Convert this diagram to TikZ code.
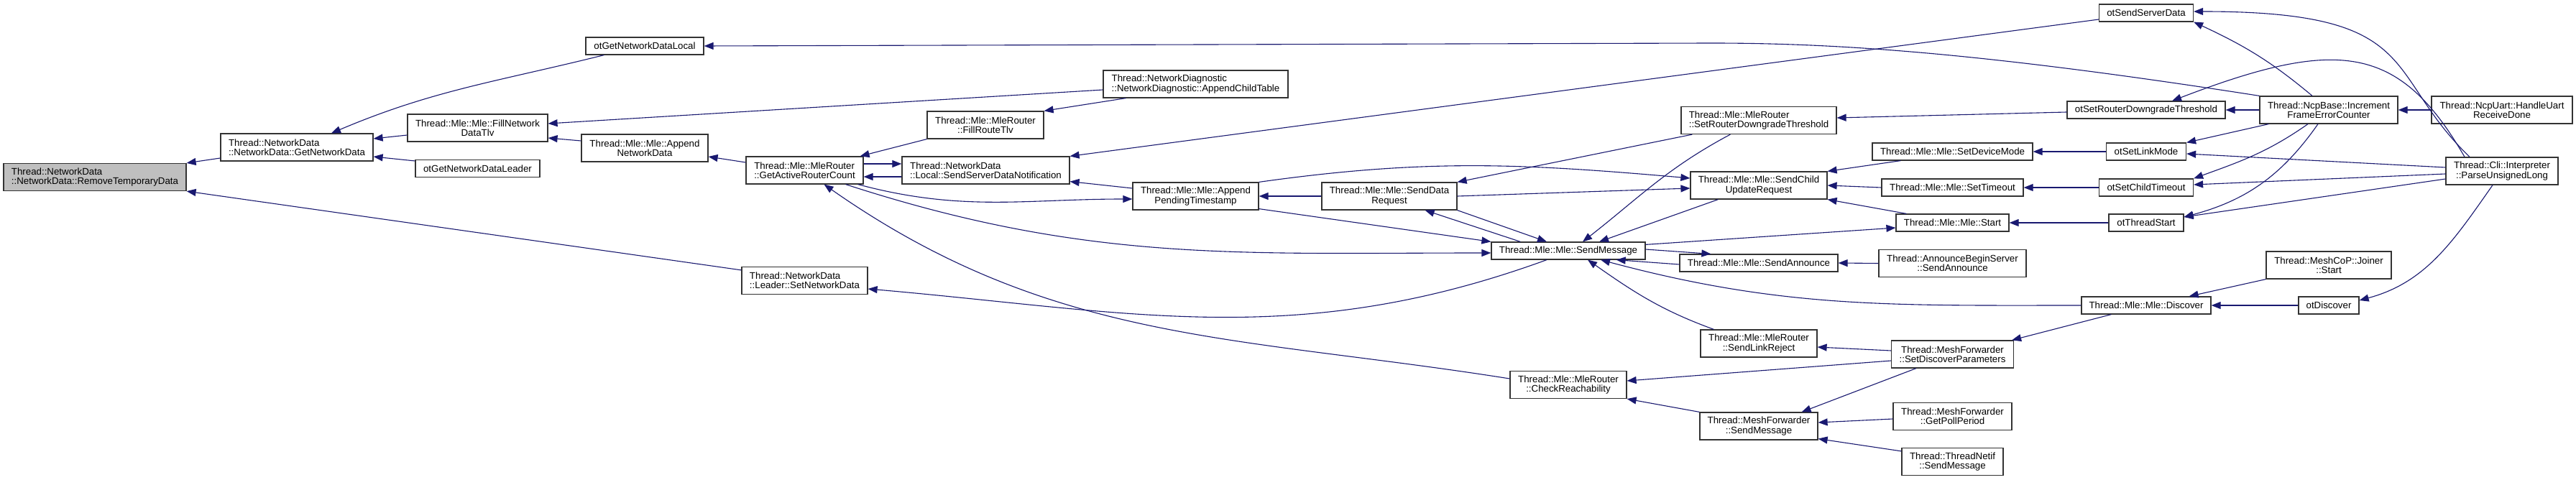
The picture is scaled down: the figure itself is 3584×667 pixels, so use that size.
\documentclass[tikz,border=0pt]{standalone}
\usepackage{fontspec}
\newfontfamily\dotfont{Liberation Sans}
\usepackage{tikz}
\usetikzlibrary{arrows.meta}
\definecolor{callblue}{HTML}{191970}

\tikzset{
  fn/.style={draw=black!80, fill=white, line width=1.2pt, inner sep=0pt, align=center,
             font=\dotfont\fontsize{13.3pt}{13.3pt}\selectfont},
  fnl/.style={fn, align=left},
  oneline/.style={minimum height=24pt},
  twoline/.style={minimum height=38pt},
  call/.style={callblue, line width=1.1pt, -{Triangle[length=13pt,width=10pt]}}
}

\begin{document}
\begin{tikzpicture}[x=1pt, y=1pt]
    \fill[white] (0,0) rectangle (3584,667);
    \useasboundingbox (0,0) rectangle (3584,667);

    % Function boxes, rank by rank (left to right)
    \node[fnl, twoline, minimum width=254pt, fill=black!25] (root) at (132,420.5) {Thread::NetworkData\\::NetworkData::RemoveTemporaryData};

    \node[fnl, twoline, minimum width=212pt] (gnd) at (413,462) {Thread::NetworkData\\::NetworkData::GetNetworkData};

    \node[fn, twoline, minimum width=195pt] (fillnd) at (664.5,489) {Thread::Mle::Mle::FillNetwork\\DataTlv};
    \node[fn, oneline, minimum width=173pt] (gndleader) at (664.5,432.5) {otGetNetworkDataLeader};

    \node[fn, oneline, minimum width=164pt] (gndlocal) at (897,603) {otGetNetworkDataLocal};
    \node[fn, twoline, minimum width=176pt] (appendnd) at (897,461) {Thread::Mle::Mle::Append\\NetworkData};

    \node[fnl, twoline, minimum width=163pt] (garc) at (1119.5,430) {Thread::Mle::MleRouter\\::GetActiveRouterCount};
    \node[fnl, twoline, minimum width=175pt] (setnd) at (1119.5,276.5) {Thread::NetworkData\\::Leader::SetNetworkData};

    \node[fn, twoline, minimum width=162pt] (fillroute) at (1371,493) {Thread::Mle::MleRouter\\::FillRouteTlv};
    \node[fnl, twoline, minimum width=233pt] (ssdn) at (1371.5,430) {Thread::NetworkData\\::Local::SendServerDataNotification};

    \node[fnl, twoline, minimum width=257pt] (childtable) at (1663.5,550) {Thread::NetworkDiagnostic\\::NetworkDiagnostic::AppendChildTable};
    \node[fn, twoline, minimum width=175pt] (apt) at (1663.5,394) {Thread::Mle::Mle::Append\\PendingTimestamp};

    \node[fn, twoline, minimum width=188pt] (sdr) at (1933,394) {Thread::Mle::Mle::SendData\\Request};

    \node[fn, oneline, minimum width=214pt] (sendmsg) at (2182,318) {Thread::Mle::Mle::SendMessage};
    \node[fn, twoline, minimum width=162pt] (checkreach) at (2182,131.5) {Thread::Mle::MleRouter\\::CheckReachability};

    \node[fnl, twoline, minimum width=216pt] (srdt) at (2447,499.5) {Thread::Mle::MleRouter\\::SetRouterDowngradeThreshold};
    \node[fn, twoline, minimum width=190pt] (scur) at (2447,409) {Thread::Mle::Mle::SendChild\\UpdateRequest};
    \node[fn, oneline, minimum width=220pt] (sendann) at (2447,301) {Thread::Mle::Mle::SendAnnounce};
    \node[fn, twoline, minimum width=162pt] (linkreject) at (2447,189) {Thread::Mle::MleRouter\\::SendLinkReject};
    \node[fn, twoline, minimum width=164pt] (mfsend) at (2447,74) {Thread::MeshForwarder\\::SendMessage};

    \node[fn, oneline, minimum width=223pt] (devmode) at (2716.5,456) {Thread::Mle::Mle::SetDeviceMode};
    \node[fn, oneline, minimum width=197pt] (settimeout) at (2716.5,406) {Thread::Mle::Mle::SetTimeout};
    \node[fn, oneline, minimum width=157pt] (mlestart) at (2716.5,357) {Thread::Mle::Mle::Start};
    \node[fn, twoline, minimum width=205pt] (abssend) at (2716.5,300.5) {Thread::AnnounceBeginServer\\::SendAnnounce};
    \node[fn, twoline, minimum width=170pt] (sdp) at (2716.5,174) {Thread::MeshForwarder\\::SetDiscoverParameters};
    \node[fn, twoline, minimum width=165pt] (pollperiod) at (2716.5,87.5) {Thread::MeshForwarder\\::GetPollPeriod};
    \node[fn, twoline, minimum width=141pt] (netifsend) at (2716.5,24.5) {Thread::ThreadNetif\\::SendMessage};

    \node[fn, oneline, minimum width=131pt] (otsrvdata) at (2986,649) {otSendServerData};
    \node[fn, oneline, minimum width=220pt] (otsrdt) at (2986,514) {otSetRouterDowngradeThreshold};
    \node[fn, oneline, minimum width=111pt] (otlinkmode) at (2986,456) {otSetLinkMode};
    \node[fn, oneline, minimum width=131pt] (otchildto) at (2986,406) {otSetChildTimeout};
    \node[fn, oneline, minimum width=104pt] (otstart) at (2986,357) {otThreadStart};
    \node[fn, oneline, minimum width=180pt] (discover) at (2986,242) {Thread::Mle::Mle::Discover};

    \node[fn, twoline, minimum width=192pt] (incfec) at (3240,514) {Thread::NcpBase::Increment\\FrameErrorCounter};
    \node[fn, twoline, minimum width=174pt] (joiner) at (3240,298) {Thread::MeshCoP::Joiner\\::Start};
    \node[fn, oneline, minimum width=84pt] (otdiscover) at (3240,242) {otDiscover};

    \node[fn, twoline, minimum width=196pt] (uartdone) at (3481,514) {Thread::NcpUart::HandleUart\\ReceiveDone};
    \node[fn, twoline, minimum width=156pt] (parseul) at (3481,429) {Thread::Cli::Interpreter\\::ParseUnsignedLong};

    % Calls into the first two ranks
    \draw[call] ([yshift=-15pt]gnd.west) -- (root.north east);
    \draw[call] ([yshift=-5pt]setnd.north west) -- (root.south east);
    \draw[call] ([xshift=26pt]gndlocal.south west) to[out=194,in=23] ([xshift=48pt]gnd.north);
    \draw[call] ([yshift=-10pt]fillnd.west) -- ([yshift=12pt]gnd.east);
    \draw[call] ([yshift=10.5pt]gndleader.west) -- ([yshift=-13pt]gnd.east);
    \draw[call] (incfec.north west) .. controls (2750,595) and (2550,607) .. (2380,607) -- (gndlocal.east);
    \draw[call] ([yshift=-8pt]childtable.west) -- ([yshift=6pt]fillnd.east);
    \draw[call] ([yshift=10pt]appendnd.west) -- ([yshift=-14pt]fillnd.east);
    \draw[call] ([yshift=11pt]garc.west) -- ([yshift=-12pt]appendnd.east);

    % Router count and server data
    \draw[call] (fillroute.south west) -- ([xshift=-5pt]garc.north east);
    \draw[call] ([yshift=8.5pt]checkreach.west) to[out=171,in=-35] ([xshift=27pt]garc.south);
    \draw[call] ([yshift=9pt]garc.east) -- ([yshift=9pt]ssdn.west);
    \draw[call] ([yshift=-9pt]ssdn.west) -- ([yshift=-9pt]garc.east);
    \draw[call] ([yshift=11pt]apt.west) -- ([yshift=4pt]ssdn.south east);
    \draw[call] ([yshift=-9pt]otsrvdata.west) -- (ssdn.north east);
    \draw[call] ([xshift=-8pt]garc.south east) to[out=-15,in=180] ([yshift=-4pt]apt.west);
    \draw[call] ([xshift=-25pt]garc.south east) to[out=-18,in=180] ([yshift=-3pt]sendmsg.west);
    \draw[call] ([xshift=32pt]childtable.south west) -- (fillroute.north east);

    % Around SendMessage
    \draw[call] (sdr.west) -- (apt.east);
    \draw[call] ([yshift=2pt]apt.south east) -- (sendmsg.north west);
    \draw[call] (apt.north east) to[out=8,in=175] ([yshift=10pt]scur.west);
    \draw[call] (sdr.east) -- ([yshift=-4pt]scur.west);
    \draw[call] ([xshift=16pt]srdt.south west) -- (sdr.north east);
    \draw[call] ([xshift=69pt]srdt.south west) to[out=208,in=38] ([xshift=20pt]sendmsg.north);
    \draw[call] ([xshift=41pt]sendmsg.north west) -- ([xshift=-45pt]sdr.south east);
    \draw[call] (sdr.south east) -- ([xshift=-30pt]sendmsg.north);
    \draw[call] ([xshift=39pt]scur.south west) -- ([xshift=43pt]sendmsg.north);
    \draw[call] ([yshift=-4pt]sendmsg.north east) -- ([yshift=-7pt]mlestart.west);
    \draw[call] ([yshift=2pt]sendmsg.east) -- ([xshift=44pt]sendann.north west);
    \draw[call] ([yshift=-2pt]sendann.west) -- ([xshift=-41pt]sendmsg.south east);
    \draw[call] (discover.west) to[out=180,in=-15] ([xshift=45pt]sendmsg.south);
    \draw[call] ([xshift=19pt]linkreject.north west) to[out=160,in=-35] ([xshift=27pt]sendmsg.south);
    \draw[call] ([xshift=-30pt]sendmsg.south) to[out=200,in=-5] ([yshift=-11.5pt]setnd.east);
    \draw[call] ([yshift=-9pt]sdp.west) -- ([yshift=5.5pt]checkreach.east);
    \draw[call] (mfsend.north west) -- (checkreach.south east);

    % Mle setters and mesh forwarder
    \draw[call] ([yshift=-3pt]otsrdt.west) -- ([yshift=3.5pt]srdt.east);
    \draw[call] ([xshift=40pt]devmode.south west) -- (scur.north east);
    \draw[call] (settimeout.west) -- (scur.east);
    \draw[call] ([xshift=15pt]mlestart.north west) -- (scur.south east);
    \draw[call] (otlinkmode.west) -- (devmode.east);
    \draw[call] (otchildto.west) -- (settimeout.east);
    \draw[call] (otstart.west) -- (mlestart.east);
    \draw[call] (abssend.west) -- (sendann.east);
    \draw[call] ([yshift=5pt]sdp.west) -- ([yshift=-5pt]linkreject.east);
    \draw[call] ([xshift=42pt]discover.south west) -- ([xshift=-3pt]sdp.north east);
    \draw[call] ([xshift=35pt]sdp.south west) -- ([xshift=-23pt]mfsend.north east);
    \draw[call] ([yshift=-3.5pt]pollperiod.west) -- ([yshift=5pt]mfsend.east);
    \draw[call] ([yshift=-5pt]netifsend.north west) -- ([yshift=2pt]mfsend.south east);
    \draw[call] (joiner.south west) -- ([xshift=-31pt]discover.north east);
    \draw[call] (otdiscover.west) -- (discover.east);

    % NCP and CLI callers
    \draw[call] ([xshift=-13pt]parseul.south) to[out=235,in=15] ([yshift=7pt]otdiscover.east);
    \draw[call] ([xshift=-45pt]parseul.north) to[out=136,in=0,in looseness=1.9] ([yshift=2pt]otsrvdata.east);
    \draw[call] ([xshift=-23pt]incfec.north) to[out=140,in=-25] (otsrvdata.south east);
    \draw[call] ([xshift=-52pt]parseul.north) to[out=120,in=21,out looseness=1.12,in looseness=1.53] ([xshift=36pt]otsrdt.north);
    \draw[call] (incfec.west) -- (otsrdt.east);
    \draw[call] ([xshift=13pt]incfec.south west) -- (otlinkmode.north east);
    \draw[call] ([yshift=5pt]parseul.west) -- ([yshift=-3pt]otlinkmode.east);
    \draw[call] ([xshift=-29pt]incfec.south) to[out=215,in=20] (otchildto.north east);
    \draw[call] ([yshift=-4pt]parseul.west) -- ([yshift=4pt]otchildto.east);
    \draw[call] ([xshift=-15pt]incfec.south) to[out=235,in=15] ([yshift=8pt]otstart.east);
    \draw[call] ([yshift=-11pt]parseul.west) -- ([yshift=8pt]otstart.east);
    \draw[call] (uartdone.west) -- (incfec.east);
\end{tikzpicture}
\end{document}
